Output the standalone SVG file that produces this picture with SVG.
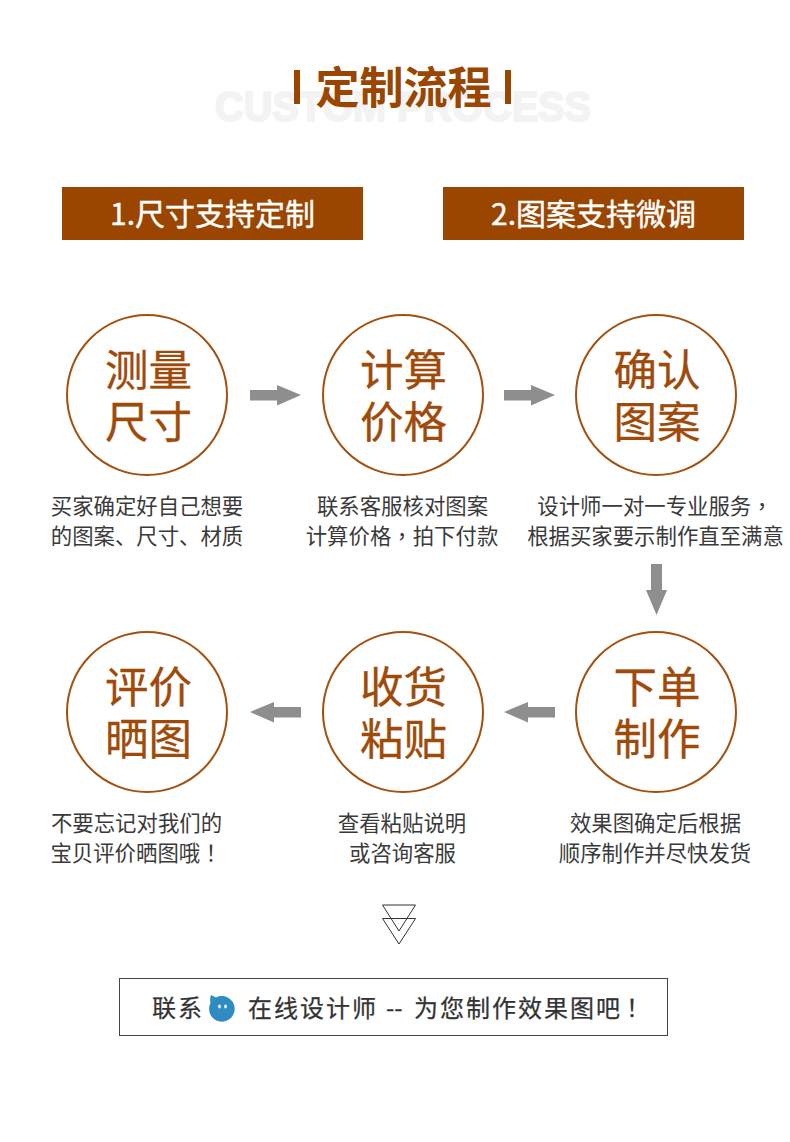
<svg xmlns="http://www.w3.org/2000/svg" width="790" height="1142" viewBox="0 0 790 1142">
<style>
text{font-family:"Noto Sans CJK SC","Noto Sans",sans-serif}
.c{fill:#fff;stroke:#a3500f;stroke-width:2}
.ct{font-size:43.5px;fill:#a04a0a;stroke:#a04a0a;stroke-width:.3px;text-anchor:middle}
.d{font-size:21.400px;fill:#3a3a3a;text-anchor:middle}
.hb{fill:#9a4500}
.ht{font-size:30px;fill:#fff;stroke:#fff;stroke-width:.4px}
.a{fill:#8e8e8e}
.t{fill:none;stroke:#333;stroke-width:1}
.b{font-size:24px;fill:#333;stroke:#333;stroke-width:.25px;letter-spacing:2px}
.p{font-family:"Noto Sans CJK TC","Noto Sans",sans-serif}
</style>
<rect width="790" height="1142" fill="#fff"/>
<g id="title">
<text x="215" y="121" textLength="376" lengthAdjust="spacingAndGlyphs" style="font-family:'Liberation Sans',sans-serif;font-size:42px;font-weight:700;fill:#f3f3f3;stroke:#f3f3f3;stroke-width:2px">CUSTOM PROCESS</text>
<rect x="294" y="70" width="6" height="34" class="hb"/>
<rect x="505" y="70" width="6" height="34" class="hb"/>
<text x="403.500" y="104" text-anchor="middle" style="font-size:44px;font-weight:700;fill:#9a4500">定制流程</text>
</g>
<g id="header-1"><rect x="62" y="187" width="301" height="53" class="hb"/><text class="ht" x="110" y="225">1.尺寸支持定制</text></g>
<g id="header-2"><rect x="443" y="187" width="301" height="53" class="hb"/><text class="ht" x="491" y="225">2.图案支持微调</text></g>
<g id="connectors">
<path id="arrow-1" class="a" d="M250 390H277V385L301 395L277 405.500V400.500H250Z"/>
<path id="arrow-2" class="a" d="M504 390H531V385L555 395L531 405.500V400.500H504Z"/>
<path id="arrow-3" class="a" d="M651 564H662V590H667L656.500 615L646 590H651Z"/>
<path id="arrow-4" class="a" d="M555 707H528V702L504 712L528 722.500V717.500H555Z"/>
<path id="arrow-5" class="a" d="M301 707H274V702L250 712L274 722.500V717.500H301Z"/>
<path id="chevrons" class="t" d="M382.500 905H415.500L399 931ZM382.500 918.500H415.500L399 944Z"/>
</g>
<g id="node-1"><circle class="c" cx="147" cy="395" r="80"/><text class="ct" x="148.500" y="386">测量</text><text class="ct" x="148.500" y="438">尺寸</text>
<text class="d" x="147" y="514">买家确定好自己想要</text><text class="d" x="147" y="544">的图案、尺寸、材质</text></g>
<g id="node-2"><circle class="c" cx="403" cy="395" r="80"/><text class="ct" x="403.500" y="386">计算</text><text class="ct" x="403.500" y="438">价格</text>
<text class="d" x="402.500" y="514">联系客服核对图案</text><text class="d" x="402" y="544">计算价格<tspan class="p">，</tspan>拍下付款</text></g>
<g id="node-3"><circle class="c" cx="656" cy="395" r="80"/><text class="ct" x="657" y="386">确认</text><text class="ct" x="657" y="438">图案</text>
<text class="d" x="655" y="514">设计师一对一专业服务<tspan class="p">，</tspan></text><text class="d" x="655.500" y="544">根据买家要示制作直至满意</text></g>
<g id="node-4"><circle class="c" cx="656" cy="712" r="80"/><text class="ct" x="657" y="703">下单</text><text class="ct" x="657" y="755">制作</text>
<text class="d" x="655.500" y="831">效果图确定后根据</text><text class="d" x="655" y="861">顺序制作并尽快发货</text></g>
<g id="node-5"><circle class="c" cx="403" cy="712" r="80"/><text class="ct" x="403.500" y="703">收货</text><text class="ct" x="403.500" y="755">粘贴</text>
<text class="d" x="402" y="831">查看粘贴说明</text><text class="d" x="402.500" y="861">或咨询客服</text></g>
<g id="node-6"><circle class="c" cx="147" cy="712" r="80"/><text class="ct" x="148.500" y="703">评价</text><text class="ct" x="148.500" y="755">晒图</text>
<text class="d" x="136.500" y="831">不要忘记对我们的</text><text class="d" x="136" y="861">宝贝评价晒图哦<tspan class="p">！</tspan></text></g>
<g id="contact"><rect x="119.500" y="978.500" width="548" height="57" fill="#fff" stroke="#444" stroke-width="1"/>
<text class="b" x="152" y="1017">联系</text>
<path d="M211 995L216 997.500A12.800 12.800 0 1 1 210.500 1003Q209.500 999 211 995Z" fill="#2f8cc3"/>
<ellipse cx="219.500" cy="1006.500" rx="1.300" ry="2" fill="#fff"/><ellipse cx="225.500" cy="1006.500" rx="1.300" ry="2" fill="#fff"/>
<text class="b" x="248" y="1017">在线设计师</text>
<text class="b" x="386" y="1017" style="letter-spacing:0">--</text>
<text class="b" x="414" y="1017">为您制作效果图吧</text>
<text class="b p" x="620" y="1017">！</text></g>
</svg>
